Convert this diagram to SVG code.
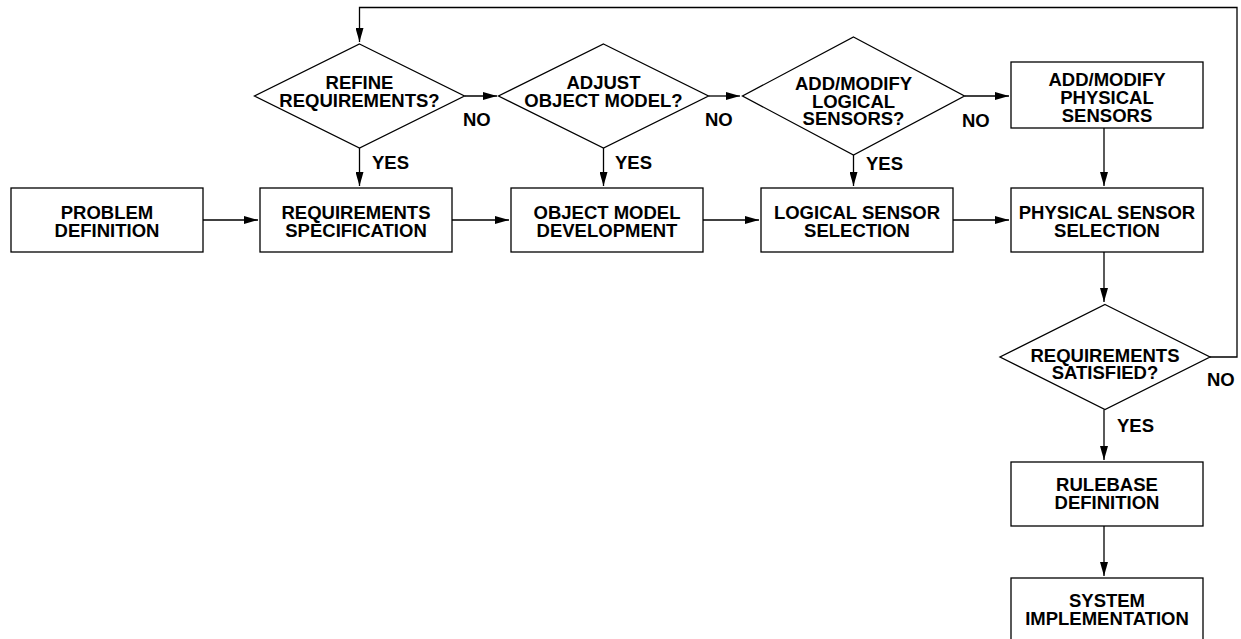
<svg xmlns="http://www.w3.org/2000/svg" width="1241" height="639" viewBox="0 0 1241 639">
<style>
.box{fill:#fff;stroke:#000;stroke-width:1.3}
.ln{fill:none;stroke:#000;stroke-width:1.3}
.t{font-family:"Liberation Sans",Arial,Helvetica,sans-serif;font-weight:bold;font-size:18.5px;fill:#000;text-anchor:middle}
.l{font-family:"Liberation Sans",Arial,Helvetica,sans-serif;font-weight:bold;font-size:18.5px;fill:#000}
</style>
<defs>
<marker id="ah" markerUnits="userSpaceOnUse" markerWidth="14" markerHeight="8" refX="14" refY="4" orient="auto">
<path d="M0,0 L14,4 L0,8 z" fill="#000"/>
</marker>
</defs>
<rect width="1241" height="639" fill="#fff"/>
<g id="connectors">
<path class="ln" d="M203,220 H258" marker-end="url(#ah)"/>
<path class="ln" d="M452,220 H509" marker-end="url(#ah)"/>
<path class="ln" d="M703,220 H759" marker-end="url(#ah)"/>
<path class="ln" d="M953,220 H1009" marker-end="url(#ah)"/>
<path class="ln" d="M359.5,148 V186" marker-end="url(#ah)"/>
<path class="ln" d="M603.5,148 V186" marker-end="url(#ah)"/>
<path class="ln" d="M853.5,155 V186" marker-end="url(#ah)"/>
<path class="ln" d="M464.5,96 H497" marker-end="url(#ah)"/>
<path class="ln" d="M708.5,96 H740" marker-end="url(#ah)"/>
<path class="ln" d="M964.5,96 H1009" marker-end="url(#ah)"/>
<path class="ln" d="M1104,128 V186" marker-end="url(#ah)"/>
<path class="ln" d="M1104,252 V302" marker-end="url(#ah)"/>
<path class="ln" d="M1104,409.5 V460" marker-end="url(#ah)"/>
<path class="ln" d="M1104,526 V576" marker-end="url(#ah)"/>
<path class="ln" d="M1210,357 H1237 V7.5 H359.5 V42" marker-end="url(#ah)"/>
<text class="l" x="372" y="169">YES</text>
<text class="l" x="615" y="169">YES</text>
<text class="l" x="866" y="170">YES</text>
<text class="l" x="1117" y="432">YES</text>
<text class="l" x="463" y="126">NO</text>
<text class="l" x="705" y="126">NO</text>
<text class="l" x="962" y="127">NO</text>
<text class="l" x="1207" y="386">NO</text>
</g>
<g id="problem-definition">
<rect class="box" x="11" y="188" width="192" height="64"/>
<text class="t" x="107" y="219">PROBLEM</text>
<text class="t" x="107" y="236.5">DEFINITION</text>
</g>
<g id="requirements-specification">
<rect class="box" x="260" y="188" width="192" height="64"/>
<text class="t" x="356" y="219">REQUIREMENTS</text>
<text class="t" x="356" y="236.5">SPECIFICATION</text>
</g>
<g id="object-model-development">
<rect class="box" x="511" y="188" width="192" height="64"/>
<text class="t" x="607" y="219">OBJECT MODEL</text>
<text class="t" x="607" y="236.5">DEVELOPMENT</text>
</g>
<g id="logical-sensor-selection">
<rect class="box" x="761" y="188" width="192" height="64"/>
<text class="t" x="857" y="219">LOGICAL SENSOR</text>
<text class="t" x="857" y="236.5">SELECTION</text>
</g>
<g id="physical-sensor-selection">
<rect class="box" x="1011" y="188" width="192" height="64"/>
<text class="t" x="1107" y="219">PHYSICAL SENSOR</text>
<text class="t" x="1107" y="236.5">SELECTION</text>
</g>
<g id="refine-requirements">
<polygon class="box" points="359.5,44 464.5,96 359.5,148 254.5,96"/>
<text class="t" x="359.5" y="89">REFINE</text>
<text class="t" x="359.5" y="107">REQUIREMENTS?</text>
</g>
<g id="adjust-object-model">
<polygon class="box" points="603.5,44 708.5,96 603.5,148 498.5,96"/>
<text class="t" x="603.5" y="89">ADJUST</text>
<text class="t" x="603.5" y="107">OBJECT MODEL?</text>
</g>
<g id="add-modify-logical-sensors">
<polygon class="box" points="853.5,37 964.5,96 853.5,155 742.5,96"/>
<text class="t" x="853.5" y="90">ADD/MODIFY</text>
<text class="t" x="853.5" y="107.5">LOGICAL</text>
<text class="t" x="853.5" y="125">SENSORS?</text>
</g>
<g id="add-modify-physical-sensors">
<rect class="box" x="1011" y="62" width="192" height="66"/>
<text class="t" x="1107" y="86">ADD/MODIFY</text>
<text class="t" x="1107" y="104">PHYSICAL</text>
<text class="t" x="1107" y="122">SENSORS</text>
</g>
<g id="requirements-satisfied">
<polygon class="box" points="1105,304.5 1210,357 1105,409.5 1000,357"/>
<text class="t" x="1105" y="361.5">REQUIREMENTS</text>
<text class="t" x="1105" y="379">SATISFIED?</text>
</g>
<g id="rulebase-definition">
<rect class="box" x="1011" y="462" width="192" height="64"/>
<text class="t" x="1107" y="491">RULEBASE</text>
<text class="t" x="1107" y="508.5">DEFINITION</text>
</g>
<g id="system-implementation">
<rect class="box" x="1011" y="578" width="192" height="64"/>
<text class="t" x="1107" y="607">SYSTEM</text>
<text class="t" x="1107" y="625">IMPLEMENTATION</text>
</g>
</svg>
